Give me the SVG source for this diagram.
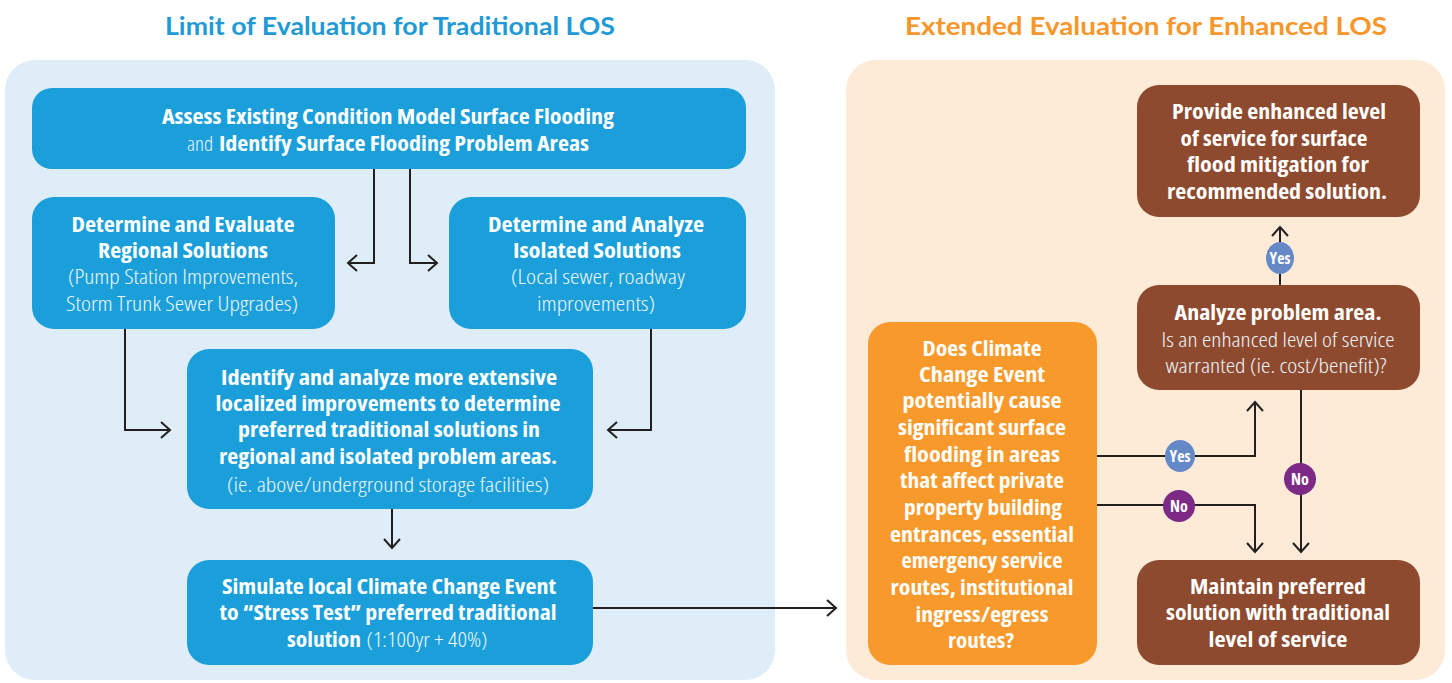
<svg xmlns="http://www.w3.org/2000/svg" width="1452" height="683" viewBox="0 0 1452 683">
<style>
.t{font-family:"Open Sans","Liberation Sans",sans-serif;font-stretch:condensed;font-size:21px;fill:#fff;text-anchor:middle}
.b{font-weight:700}
.l{font-weight:300;fill:#eef6fc}
.ttl{font-family:Lato,"Open Sans",sans-serif;font-weight:700;font-size:25px;text-anchor:middle}
.blue{fill:#1b9fda}
.brown{fill:#8d4a2e}
.orange{fill:#f89a2b}
.con{fill:none;stroke:#231f20;stroke-width:2;marker-end:url(#arr)}
.badge{font-family:"Open Sans","Liberation Sans",sans-serif;font-stretch:condensed;font-weight:700;font-size:16px;fill:#fff;text-anchor:middle}
</style>
<defs>
<marker id="arr" viewBox="-12 -10 14 20" markerWidth="14" markerHeight="20" refX="0" refY="0" orient="auto" markerUnits="userSpaceOnUse">
<path d="M-9,-8 L0,0 L-9,8" fill="none" stroke="#231f20" stroke-width="2"/>
</marker>
</defs>
<rect width="1452" height="683" fill="#fff"/>
<text class="ttl" x="390" y="35" fill="#1f9ad6" textLength="450" lengthAdjust="spacingAndGlyphs">Limit of Evaluation for Traditional LOS</text>
<text class="ttl" x="1146" y="35" fill="#f7962a" textLength="482" lengthAdjust="spacingAndGlyphs">Extended Evaluation for Enhanced LOS</text>
<rect x="5" y="60" width="770" height="620" rx="30" fill="#deedf8"/>
<rect x="846" y="60" width="599" height="620" rx="30" fill="#fdebd8"/>

<g id="connectors">
<polyline class="con" points="374,169 374,263 348,263"/>
<polyline class="con" points="410,169 410,263 437,263"/>
<polyline class="con" points="125,329 125,430 170,430"/>
<polyline class="con" points="651,329 651,430 608,430"/>
<polyline class="con" points="392,509 392,548"/>
<polyline class="con" points="593,608 836,608"/>
<polyline class="con" points="1097,456 1255,456 1255,402"/>
<polyline class="con" points="1097,505 1255,505 1255,552"/>
<polyline class="con" points="1301,390 1301,552"/>
<polyline class="con" points="1280,285 1280,227"/>
<ellipse cx="1180" cy="456" rx="15" ry="16" fill="#6588c6"/>
<text class="badge" x="1180" y="462">Yes</text>
<ellipse cx="1179" cy="506" rx="16" ry="16" fill="#7d2a86"/>
<text class="badge" x="1179" y="512">No</text>
<ellipse cx="1300" cy="479" rx="16" ry="16" fill="#7d2a86"/>
<text class="badge" x="1300" y="485">No</text>
<ellipse cx="1280" cy="258" rx="14" ry="16" fill="#6588c6"/>
<text class="badge" x="1280" y="264">Yes</text>
</g>

<g id="assess">
<rect class="blue" x="32" y="88" width="714" height="81" rx="20"/>
<text class="t b" x="388" y="124" textLength="452" lengthAdjust="spacingAndGlyphs">Assess Existing Condition Model Surface Flooding</text>
<text class="t l" x="200" y="151" textLength="26" lengthAdjust="spacingAndGlyphs">and</text>
<text class="t b" x="404" y="151" textLength="370" lengthAdjust="spacingAndGlyphs">Identify Surface Flooding Problem Areas</text>
</g>

<g id="regional">
<rect class="blue" x="32" y="197" width="303" height="132" rx="22"/>
<text class="t b" x="183" y="232" textLength="223" lengthAdjust="spacingAndGlyphs">Determine and Evaluate</text>
<text class="t b" x="183" y="258" textLength="170" lengthAdjust="spacingAndGlyphs">Regional Solutions</text>
<text class="t l" x="183" y="284" textLength="230" lengthAdjust="spacingAndGlyphs">(Pump Station Improvements,</text>
<text class="t l" x="182" y="311" textLength="232" lengthAdjust="spacingAndGlyphs">Storm Trunk Sewer Upgrades)</text>
</g>

<g id="isolated">
<rect class="blue" x="449" y="197" width="297" height="132" rx="22"/>
<text class="t b" x="596" y="232" textLength="216" lengthAdjust="spacingAndGlyphs">Determine and Analyze</text>
<text class="t b" x="597" y="258" textLength="168" lengthAdjust="spacingAndGlyphs">Isolated Solutions</text>
<text class="t l" x="598" y="284" textLength="174" lengthAdjust="spacingAndGlyphs">(Local sewer, roadway</text>
<text class="t l" x="596" y="311" textLength="118" lengthAdjust="spacingAndGlyphs">improvements)</text>
</g>

<g id="identify">
<rect class="blue" x="187" y="349" width="406" height="160" rx="22"/>
<text class="t b" x="389" y="385" textLength="336" lengthAdjust="spacingAndGlyphs">Identify and analyze more extensive</text>
<text class="t b" x="388" y="411" textLength="345" lengthAdjust="spacingAndGlyphs">localized improvements to determine</text>
<text class="t b" x="389" y="437" textLength="302" lengthAdjust="spacingAndGlyphs">preferred traditional solutions in</text>
<text class="t b" x="388" y="464" textLength="338" lengthAdjust="spacingAndGlyphs">regional and isolated problem areas.</text>
<text class="t l" x="388" y="492" textLength="322" lengthAdjust="spacingAndGlyphs">(ie. above/underground storage facilities)</text>
</g>

<g id="simulate">
<rect class="blue" x="187" y="560" width="406" height="105" rx="22"/>
<text class="t b" x="389" y="594" textLength="334" lengthAdjust="spacingAndGlyphs">Simulate local Climate Change Event</text>
<text class="t b" x="388" y="620" textLength="337" lengthAdjust="spacingAndGlyphs">to “Stress Test” preferred traditional</text>
<text class="t b" x="324" y="647" textLength="74" lengthAdjust="spacingAndGlyphs">solution</text>
<text class="t l" x="427" y="647" textLength="121" lengthAdjust="spacingAndGlyphs">(1:100yr + 40%)</text>
</g>

<g id="climate">
<rect class="orange" x="868" y="322" width="229" height="343" rx="22"/>
<text class="t b" x="982" y="356" textLength="119" lengthAdjust="spacingAndGlyphs">Does Climate</text>
<text class="t b" x="982" y="382" textLength="126" lengthAdjust="spacingAndGlyphs">Change Event</text>
<text class="t b" x="982" y="408" textLength="159" lengthAdjust="spacingAndGlyphs">potentially cause</text>
<text class="t b" x="982" y="435" textLength="168" lengthAdjust="spacingAndGlyphs">significant surface</text>
<text class="t b" x="982" y="462" textLength="156" lengthAdjust="spacingAndGlyphs">flooding in areas</text>
<text class="t b" x="982" y="488" textLength="164" lengthAdjust="spacingAndGlyphs">that affect private</text>
<text class="t b" x="983" y="515" textLength="158" lengthAdjust="spacingAndGlyphs">property building</text>
<text class="t b" x="982" y="542" textLength="184" lengthAdjust="spacingAndGlyphs">entrances, essential</text>
<text class="t b" x="982" y="568" textLength="161" lengthAdjust="spacingAndGlyphs">emergency service</text>
<text class="t b" x="982" y="595" textLength="183" lengthAdjust="spacingAndGlyphs">routes, institutional</text>
<text class="t b" x="982" y="622" textLength="133" lengthAdjust="spacingAndGlyphs">ingress/egress</text>
<text class="t b" x="981" y="648" textLength="66" lengthAdjust="spacingAndGlyphs">routes?</text>
</g>

<g id="provide">
<rect class="brown" x="1137" y="85" width="283" height="132" rx="22"/>
<text class="t b" x="1279" y="119" textLength="214" lengthAdjust="spacingAndGlyphs">Provide enhanced level</text>
<text class="t b" x="1274" y="146" textLength="187" lengthAdjust="spacingAndGlyphs">of service for surface</text>
<text class="t b" x="1278" y="172" textLength="182" lengthAdjust="spacingAndGlyphs">flood mitigation for</text>
<text class="t b" x="1277" y="199" textLength="220" lengthAdjust="spacingAndGlyphs">recommended solution.</text>
</g>

<g id="analyze">
<rect class="brown" x="1137" y="285" width="283" height="105" rx="22"/>
<text class="t b" x="1278" y="320" textLength="207" lengthAdjust="spacingAndGlyphs">Analyze problem area.</text>
<text class="t l" x="1278" y="347" textLength="233" lengthAdjust="spacingAndGlyphs">Is an enhanced level of service</text>
<text class="t l" x="1276" y="373" textLength="221" lengthAdjust="spacingAndGlyphs">warranted (ie. cost/benefit)?</text>
</g>

<g id="maintain">
<rect class="brown" x="1137" y="560" width="283" height="105" rx="22"/>
<text class="t b" x="1278" y="594" textLength="176" lengthAdjust="spacingAndGlyphs">Maintain preferred</text>
<text class="t b" x="1278" y="620" textLength="224" lengthAdjust="spacingAndGlyphs">solution with traditional</text>
<text class="t b" x="1278" y="647" textLength="139" lengthAdjust="spacingAndGlyphs">level of service</text>
</g>
</svg>
